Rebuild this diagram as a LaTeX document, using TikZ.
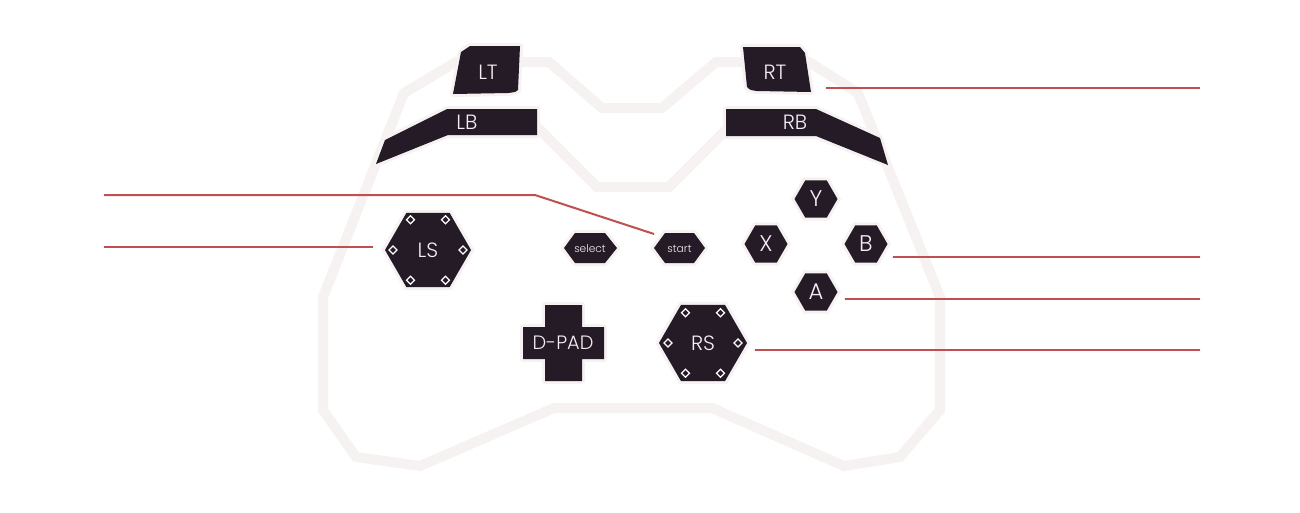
\documentclass[tikz,border=0pt]{standalone}
\usepackage{fontspec}
\IfFontExistsTF{Poppins Light}{\setmainfont{Poppins Light}}{\setmainfont{Poppins}}
\usetikzlibrary{shapes.geometric,calc}
\definecolor{dark}{HTML}{241B26}
\definecolor{halo}{HTML}{F6F2F1}
\definecolor{lead}{HTML}{C0504F}
\definecolor{ink}{HTML}{F2EEF2}
\tikzset{
  body/.style={draw=halo, line width=7.5pt, line join=miter},
  pad/.style={fill=dark, preaction={draw=halo, line width=4.5pt, line join=round}},
  lbl/.style={text=ink, inner sep=0pt, font=\fontsize{15.5}{15.5}\selectfont},
  small/.style={text=ink, inner sep=0pt, font=\fontsize{8}{8}\selectfont},
  hexbtn/.style={regular polygon, regular polygon sides=6, inner sep=0pt, fill=dark,
    preaction={draw=halo, line width=4.5pt}, text=ink},
  leader/.style={draw=lead, line width=1.5pt},
  dia/.style={draw=white, fill=dark, line width=0.9pt},
}
\begin{document}
\begin{tikzpicture}[x=0.75pt,y=-0.75pt]
\useasboundingbox (0,0) rectangle (1300,512);
% controller body
\path[body] (323,297) -- (404,93) -- (456,62) -- (549,62) -- (602,108) -- (662,108)
  -- (716,62) -- (809,62) -- (858,93) -- (940,297) -- (940,410) -- (900,457)
  -- (844,466) -- (712,408) -- (554,408) -- (420,466) -- (356,457) -- (323,410) -- cycle;
\path[body] (530,120) -- (597,187) -- (669,187) -- (736,120);
% triggers and bumpers
\path[pad] (470,46) -- (520,46) -- (518,90) .. controls (516,92) .. (508,93) -- (453,94) -- (461,52) -- cycle;
\path[pad] (743,47) -- (800,47) -- (805,53) -- (811,92) -- (757,91) .. controls (750,90) .. (747,87) -- cycle;
\path[pad] (447,109) -- (537,109) -- (537,135) -- (448,135) -- (376,164) -- (385,140) -- cycle;
\path[pad] (726,109) -- (816,109) -- (880,138) -- (888,165) -- (816,136) -- (726,136) -- cycle;
\node[lbl] (LT) at (488,72) {LT};
\node[lbl] (RT) at (775,72) {RT};
\node[lbl] (LB) at (467,122) {LB};
\node[lbl] (RB) at (795,122) {RB};
% d-pad
\path[pad] (545,305) -- (582,305) -- (582,327) -- (604,327) -- (604,359) -- (582,359) -- (582,381)
  -- (545,381) -- (545,359) -- (523,359) -- (523,327) -- (545,327) -- cycle;
\node[lbl, font=\fontsize{14.5}{14.5}\selectfont] (DPAD) at (563,343) {D-PAD};
% select / start
\path[pad] (564,248) -- (575,233) -- (605,233) -- (617,248) -- (605,263) -- (575,263) -- cycle;
\path[pad] (654,248) -- (665,233) -- (694,233) -- (705,248) -- (694,263) -- (665,263) -- cycle;
\node[small] (SEL) at (590,249) {select};
\node[small] (STA) at (679.5,249) {start};
% sticks
\node[hexbtn, minimum size=64.5pt, font=\fontsize{15.5}{15.5}\selectfont] (LS) at (428,250) {LS};
\node[hexbtn, minimum size=66pt, font=\fontsize{15.5}{15.5}\selectfont] (RS) at (703,343) {RS};
\foreach \c in {LS,RS}
  \foreach \a in {0,60,...,300}
    \draw[dia] ($(\c)+(\a:35)$) ++(-4,0) -- ++(4,-4) -- ++(4,4) -- ++(-4,4) -- cycle;
% face buttons
\node[hexbtn, minimum size=32.25pt, font=\fontsize{17}{17}\selectfont] (Y) at (816,199) {Y};
\node[hexbtn, minimum size=32.25pt, font=\fontsize{17}{17}\selectfont] (X) at (766,244) {X};
\node[hexbtn, minimum size=32.25pt, font=\fontsize{17}{17}\selectfont] (B) at (866,244) {B};
\node[hexbtn, minimum size=32.25pt, font=\fontsize{17}{17}\selectfont] (A) at (816,292) {A};
% leaders
\coordinate (rt1) at (826,88);  \coordinate (rt2) at (1200,88);
\coordinate (st1) at (104,195); \coordinate (st2) at (535,195); \coordinate (st3) at (654,234);
\coordinate (ls1) at (104,247); \coordinate (ls2) at (373,247);
\coordinate (b1) at (893,257);  \coordinate (b2) at (1200,257);
\coordinate (a1) at (845,299);  \coordinate (a2) at (1200,299);
\coordinate (rs1) at (755,350); \coordinate (rs2) at (1200,350);
\draw[leader] (rt1) -- (rt2);
\draw[leader] (st1) -- (st2) -- (st3);
\draw[leader] (ls1) -- (ls2);
\draw[leader] (b1) -- (b2);
\draw[leader] (a1) -- (a2);
\draw[leader] (rs1) -- (rs2);
\end{tikzpicture}
\end{document}
